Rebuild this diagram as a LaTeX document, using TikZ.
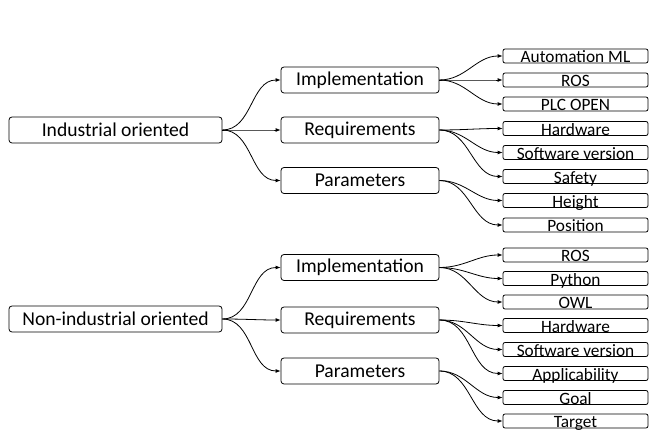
\documentclass[tikz,border=0pt]{standalone}
\usepackage{fontspec}
\setmainfont{Carlito}
\usetikzlibrary{arrows.meta}
\begin{document}
\begin{tikzpicture}[x=1pt,y=-1pt,
  rootbox/.style={draw, line width=0.8pt, rounded corners=3pt, minimum width=213pt, minimum height=26pt, inner sep=0pt, font=\fontsize{19.6}{21}\selectfont},
  midbox/.style={draw, line width=0.8pt, rounded corners=3pt, minimum width=158pt, minimum height=26pt, inner sep=0pt, font=\fontsize{19.6}{21}\selectfont},
  leafbox/.style={draw, line width=0.8pt, rounded corners=2pt, minimum width=145pt, text height=13.5pt, text depth=0pt, inner xsep=0pt, inner ysep=0.25pt, font=\fontsize{17.3}{19}\selectfont},
  conn/.style={line width=0.8pt, -{Latex[length=5pt,width=4pt]}, out=0, in=180}
]
\useasboundingbox (0,0) rectangle (649,430);
% upper group
\node[rootbox] (r1) at (115.5,130) {Industrial oriented};
\node[midbox] (m1a) at (360,80) {Implementation};
\node[midbox] (m1b) at (360,130) {Requirements};
\node[midbox] (m1c) at (360,180.5) {Parameters};
\node[leafbox] (l1a) at (575.5,56) {Automation ML};
\node[leafbox] (l1b) at (575.5,80) {ROS};
\node[leafbox] (l1c) at (575.5,104) {PLC OPEN};
\node[leafbox] (l1d) at (575.5,128.5) {Hardware};
\node[leafbox] (l1e) at (575.5,152.5) {Software version};
\node[leafbox] (l1f) at (575.5,176.5) {Safety};
\node[leafbox] (l1g) at (575.5,200.5) {Height};
\node[leafbox] (l1h) at (575.5,225) {Position};
\draw[conn] (r1.east) to (m1a.west);
\draw[conn] (r1.east) to (m1b.west);
\draw[conn] (r1.east) to (m1c.west);
\draw[conn] (m1a.east) to (l1a.west);
\draw[conn] (m1a.east) to (l1b.west);
\draw[conn] (m1a.east) to (l1c.west);
\draw[conn] (m1b.east) to (l1d.west);
\draw[conn] (m1b.east) to (l1e.west);
\draw[conn] (m1b.east) to (l1f.west);
\draw[conn] (m1c.east) to (l1g.west);
\draw[conn] (m1c.east) to (l1h.west);
% lower group
\node[rootbox] (r2) at (115.5,319) {Non-industrial oriented};
\node[midbox] (m2a) at (360,267.5) {Implementation};
\node[midbox] (m2b) at (360,320) {Requirements};
\node[midbox] (m2c) at (360,371) {Parameters};
\node[leafbox] (l2a) at (575.5,255) {ROS};
\node[leafbox] (l2b) at (575.5,278.5) {Python};
\node[leafbox] (l2c) at (575.5,302) {OWL};
\node[leafbox] (l2d) at (575.5,325.5) {Hardware};
\node[leafbox] (l2e) at (575.5,349.5) {Software version};
\node[leafbox] (l2f) at (575.5,373.5) {Applicability};
\node[leafbox] (l2g) at (575.5,397.5) {Goal};
\node[leafbox] (l2h) at (575.5,421) {Target};
\draw[conn] (r2.east) to (m2a.west);
\draw[conn] (r2.east) to (m2b.west);
\draw[conn] (r2.east) to (m2c.west);
\draw[conn] (m2a.east) to (l2a.west);
\draw[conn] (m2a.east) to (l2b.west);
\draw[conn] (m2a.east) to (l2c.west);
\draw[conn] (m2b.east) to (l2d.west);
\draw[conn] (m2b.east) to (l2e.west);
\draw[conn] (m2b.east) to (l2f.west);
\draw[conn] (m2c.east) to (l2g.west);
\draw[conn] (m2c.east) to (l2h.west);
\end{tikzpicture}
\end{document}
